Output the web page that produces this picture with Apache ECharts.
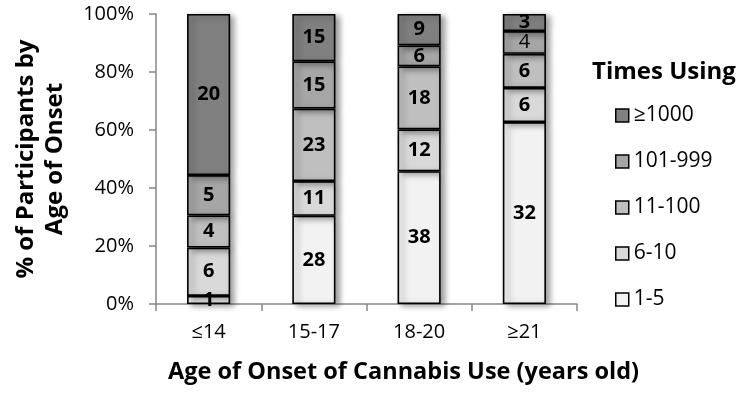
<!DOCTYPE html>
<html>
<head>
<meta charset="utf-8">
<script src="https://cdn.jsdelivr.net/npm/echarts@6/dist/echarts.min.js"></script>
<style>
html,body{margin:0;padding:0;background:#fff;}
#c{width:742px;height:394px;}
</style>
</head>
<body>
<div id="c"></div>
<script>
// Categories (age of onset)
const categories = ['≤14', '15-17', '18-20', '≥21'];
// Series (times using) – counts
const seriesNames = ['1-5', '6-10', '11-100', '101-999', '≥1000'];
const counts1to5     = [1, 28, 38, 32];
const counts6to10    = [6, 11, 12, 6];
const counts11to100  = [4, 23, 18, 6];
const counts101to999 = [5, 15, 6, 4];
const counts1000     = [20, 15, 9, 3];
const yTicks = [0, 20, 40, 60, 80, 100];

const allCounts = [counts1to5, counts6to10, counts11to100, counts101to999, counts1000];
const colors = ['#f2f2f2', '#d9d9d9', '#bfbfbf', '#a6a6a6', '#808080'];
const totals = categories.map((_, i) => allCounts.reduce((s, a) => s + a[i], 0));

const FONT = '"Open Sans", sans-serif';

const series = allCounts.map((arr, si) => ({
  name: seriesNames[si],
  type: 'bar',
  stack: 'total',
  barWidth: '41%',
  data: arr.map((v, i) => {
    const item = { value: v / totals[i] * 100, count: v };
    if (si === 3 && i === 3) item.label = { fontWeight: 'normal' };
    return item;
  }),
  itemStyle: {
    color: colors[si],
    borderColor: '#000',
    borderWidth: 1.6,
    shadowColor: 'rgba(0,0,0,0.4)',
    shadowBlur: 6,
    shadowOffsetX: 4,
    shadowOffsetY: 2
  },
  label: {
    show: true,
    position: 'inside',
    formatter: p => String(p.data.count),
    color: '#000',
    fontFamily: FONT,
    fontWeight: 'bold',
    fontSize: 20
  },
  emphasis: { disabled: true }
}));

const chart = echarts.init(document.getElementById('c'));
chart.setOption({
  animation: false,
  textStyle: { fontFamily: FONT },
  grid: { left: 156, right: 165, top: 14, bottom: 90 },
  title: {
    text: 'Times Using',
    left: 592, top: 60,
    textStyle: { fontFamily: FONT, fontWeight: 'bold', fontSize: 24, color: '#000' },
    padding: 0
  },
  legend: {
    orient: 'vertical',
    left: 615, top: 105,
    data: seriesNames.slice().reverse(),
    icon: 'rect',
    itemWidth: 13, itemHeight: 13,
    itemGap: 25,
    itemStyle: { borderColor: '#000', borderWidth: 1.5, shadowBlur: 0, shadowOffsetX: 0, shadowOffsetY: 0 },
    textStyle: { fontFamily: FONT, fontSize: 21, color: '#000', lineHeight: 20 },
    padding: 0
  },
  xAxis: {
    type: 'category',
    data: categories,
    axisLine: { lineStyle: { color: '#868686', width: 1.5 } },
    axisTick: { show: true, length: 7, lineStyle: { color: '#868686', width: 1.5 } },
    axisLabel: { color: '#000', fontSize: 20, fontFamily: FONT, margin: 18 },
    name: 'Age of Onset of Cannabis Use (years old)',
    nameLocation: 'middle',
    nameGap: 56,
    nameTextStyle: { fontFamily: FONT, fontWeight: 'bold', fontSize: 23.5, color: '#000', padding: [0, 0, 0, 74] }
  },
  yAxis: {
    type: 'value',
    min: yTicks[0], max: yTicks[yTicks.length - 1], interval: yTicks[1] - yTicks[0],
    axisLine: { show: true, lineStyle: { color: '#868686', width: 1.5 } },
    axisTick: { show: true, length: 7, lineStyle: { color: '#868686', width: 1.5 } },
    splitLine: { show: false },
    axisLabel: { color: '#000', fontSize: 20, fontFamily: FONT, margin: 22, formatter: '{value}%' },
    name: '% of Participants by\nAge of Onset',
    nameLocation: 'middle',
    nameGap: 86,
    nameTextStyle: { fontFamily: FONT, fontWeight: 'bold', fontSize: 24, color: '#000', lineHeight: 29, align: 'center' }
  },
  series: series
});
</script>
</body>
</html>
